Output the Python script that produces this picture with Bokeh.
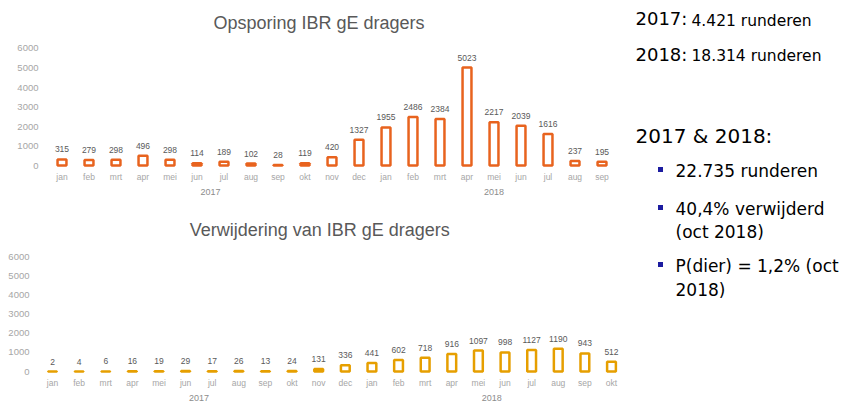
from bokeh.plotting import figure
from bokeh.models import FactorRange, Range1d, ColumnDataSource, LabelSet, Label, FixedTicker
from bokeh.core.properties import value
from bokeh.layouts import row, column
from bokeh.embed import file_html
from bokeh.resources import INLINE

months = ["jan", "feb", "mrt", "apr", "mei", "jun", "jul", "aug", "sep", "okt", "nov", "dec"]
years = ["2017", "2018"]

opsporing_2017 = [315, 279, 298, 496, 298, 114, 189, 102, 28, 119, 420, 1327]
opsporing_2018 = [1955, 2486, 2384, 5023, 2217, 2039, 1616, 237, 195]

verwijdering_2017 = [2, 4, 6, 16, 19, 29, 17, 26, 13, 24, 131, 336]
verwijdering_2018 = [441, 602, 718, 916, 1097, 998, 1127, 1190, 943, 512]

y_ticks = [0, 1000, 2000, 3000, 4000, 5000, 6000]

title_top = "Opsporing IBR gE dragers"
title_bottom = "Verwijdering van IBR gE dragers"

TXT = "#595959"
AX = "#a6a6a6"
FONT = "Liberation Sans"


def make_chart(vals17, vals18, title, color, width, height, mb_top, mb_bottom,
               pad, y_end, y_standoff, title_y, title_dx):
    factors = [(years[0], m) for m in months[:len(vals17)]] + [(years[1], m) for m in months[:len(vals18)]]
    vals = vals17 + vals18
    src = ColumnDataSource(dict(x=factors, v=vals, t=[str(v) for v in vals]))
    p = figure(x_range=FactorRange(*factors, group_padding=0, range_padding=pad,
                                   range_padding_units="absolute"),
               y_range=Range1d(-100, y_end),
               width=width, height=height,
               output_backend="svg", toolbar_location=None,
               min_border_left=40, min_border_right=5,
               min_border_top=mb_top, min_border_bottom=mb_bottom)
    p.outline_line_color = None
    p.xgrid.grid_line_color = None
    p.ygrid.grid_line_color = None
    p.vbar(x="x", top="v", bottom=0, width=0.33, source=src,
           fill_color="white", line_color=color, line_width=2.5)
    p.add_layout(LabelSet(x="x", y="v", text="t", source=src, y_offset=7,
                          text_align="center", text_baseline="alphabetic",
                          text_font=value(FONT), text_font_size=value("8.5px"),
                          text_color=TXT))
    # chart title, drawn inside the (extended) frame
    p.text(x=[factors[10]], y=[title_y], text=[title], x_offset=title_dx,
           text_align="center", text_baseline="middle",
           text_font=value(FONT), text_font_size="18px", text_color=TXT)
    ya = p.yaxis[0]
    ya.ticker = FixedTicker(ticks=y_ticks)
    ya.axis_line_color = None
    ya.major_tick_line_color = None
    ya.minor_tick_line_color = None
    ya.major_tick_out = 0
    ya.major_tick_in = 0
    ya.major_label_text_font = FONT
    ya.major_label_text_font_size = "9.5px"
    ya.major_label_text_color = AX
    ya.major_label_standoff = y_standoff
    xa = p.xaxis[0]
    xa.axis_line_color = None
    xa.major_tick_line_color = None
    xa.minor_tick_line_color = None
    xa.major_tick_out = 0
    xa.major_tick_in = 0
    xa.separator_line_color = None
    xa.major_label_text_font = FONT
    xa.major_label_text_font_size = "8.5px"
    xa.major_label_text_color = AX
    xa.major_label_standoff = 4
    xa.group_text_font = FONT
    xa.group_text_font_size = "9px"
    xa.group_text_font_style = "normal"
    xa.group_text_color = "#8c8c8c"
    return p


p1 = make_chart(opsporing_2017, opsporing_2018, title_top, "#E8631E",
                628, 202, 5, 35, 0.296, 8204, 2, 7282, -13)
p2 = make_chart(verwijdering_2017, verwijdering_2018, title_bottom, "#E69F00",
                628, 205, 5, 34, -0.049, 8555, 11, 7382, 1)

# Right text panel (pixel-like coordinates, y downward)
p3 = figure(x_range=Range1d(0, 212), y_range=Range1d(407, 0), width=212, height=407,
            output_backend="svg", toolbar_location=None, min_border=0)
p3.axis.visible = False
p3.grid.visible = False
p3.outline_line_color = None

RF = "DejaVu Sans"
texts = [
    ("2017:", 7, 18, "18px"),
    ("4.421 runderen", 63, 20, "15.5px"),
    ("2018:", 7, 53.5, "18px"),
    ("18.314 runderen", 63, 55.5, "15.5px"),
    ("2017 & 2018:", 7, 135.5, "20px"),
    ("22.735 runderen", 47, 170.5, "17px"),
    ("40,4% verwijderd", 47, 208.5, "17px"),
    ("(oct 2018)", 47, 231, "17px"),
    ("P(dier) = 1,2% (oct", 47, 265.5, "17px"),
    ("2018)", 47, 289, "17px"),
]
for t, x, y, s in texts:
    p3.add_layout(Label(x=x, y=y, text=t, text_font=RF, text_font_size=s,
                        text_color="black", text_baseline="middle"))

bullets = ColumnDataSource(dict(x=[32, 32, 32], y=[169, 207, 264]))
p3.scatter(x="x", y="y", source=bullets, marker="square", size=5,
           fill_color="#1C1CA0", line_color=None)

layout = row(column(p1, p2), p3)
open("out.html", "w").write(file_html(layout, INLINE))
